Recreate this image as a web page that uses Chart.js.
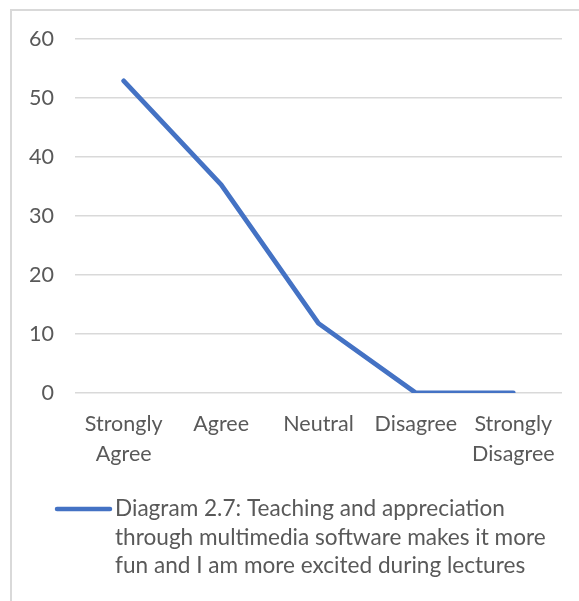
<!DOCTYPE html>
<html>
<head>
<meta charset="utf-8">
<script src="https://cdn.jsdelivr.net/npm/chart.js@4"></script>
<style>
  html, body { margin: 0; padding: 0; background: #ffffff; }
  body { width: 579px; height: 601px; position: relative; overflow: hidden; }
  #frame {
    position: absolute; left: 10px; top: 9px; width: 600px; height: 620px;
    border-top: 2px solid #d9d9d9; border-left: 2px solid #d9d9d9;
  }
  #chart { position: absolute; left: 0; top: 0; }
</style>
</head>
<body>
<div id="frame"></div>
<canvas id="chart" width="579" height="601"></canvas>
<script>
// Survey responses (percent of respondents)
const categories = [['Strongly', 'Agree'], 'Agree', 'Neutral', 'Disagree', ['Strongly', 'Disagree']];
const responses = [52.9, 35.3, 11.8, 0, 0];
const yTicks = [0, 10, 20, 30, 40, 50, 60];
const seriesLabelLines = [
  'Diagram 2.7: Teaching and appreciation',
  'through multimedia software makes it more',
  'fun and I am more excited during lectures'
];

const FONT = 'Lato, "Open Sans", sans-serif';
const TEXT = '#595959';
const BLUE = '#4472C4';

// Legend drawn below the plot with the label wrapped over several lines
const wrappedLegend = {
  id: 'wrappedLegend',
  afterDraw(chart) {
    const ctx = chart.ctx;
    const ds = chart.data.datasets[0];
    const x0 = 57, x1 = 110, textX = 115, firstY = 509, lh = 28.5;
    ctx.save();
    ctx.strokeStyle = ds.borderColor;
    ctx.lineWidth = 4.5;
    ctx.lineCap = 'round';
    ctx.beginPath();
    ctx.moveTo(x0, firstY);
    ctx.lineTo(x1, firstY);
    ctx.stroke();
    ctx.fillStyle = TEXT;
    ctx.font = '22.6px ' + FONT;
    ctx.textBaseline = 'middle';
    ctx.textAlign = 'left';
    seriesLabelLines.forEach((line, i) => ctx.fillText(line, textX, firstY + i * lh));
    ctx.restore();
  }
};

new Chart(document.getElementById('chart'), {
  type: 'line',
  data: {
    labels: categories,
    datasets: [{
      label: seriesLabelLines.join(' '),
      data: responses,
      borderColor: BLUE,
      backgroundColor: BLUE,
      borderWidth: 4.8,
      pointRadius: 0,
      pointHoverRadius: 0,
      borderCapStyle: 'round',
      borderJoinStyle: 'round',
      tension: 0
    }]
  },
  options: {
    responsive: false,
    animation: false,
    events: [],
    layout: { padding: { left: 0, top: 39, right: 17, bottom: 128 } },
    plugins: { legend: { display: false }, tooltip: { enabled: false } },
    scales: {
      x: {
        offset: true,
        grid: { display: false, drawTicks: false },
        border: { display: false },
        ticks: {
          color: TEXT,
          font: { family: FONT, size: 21.5, lineHeight: 1.4 },
          padding: 16,
          maxRotation: 0,
          autoSkip: false
        },
        afterFit(scale) { scale.height = 80; }
      },
      y: {
        min: 0,
        max: 60,
        afterBuildTicks(scale) { scale.ticks = yTicks.map(v => ({ value: v })); },
        grid: { color: '#d9d9d9', lineWidth: 1.5, drawTicks: false },
        border: { display: false },
        ticks: {
          color: TEXT,
          font: { family: FONT, size: 21.5 },
          padding: 21
        },
        afterFit(scale) { scale.width = 75; }
      }
    }
  },
  plugins: [wrappedLegend]
});
</script>
</body>
</html>
